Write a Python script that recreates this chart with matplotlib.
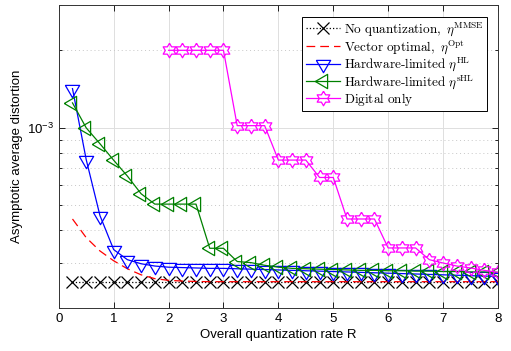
import numpy as np
import matplotlib
matplotlib.use("Agg")
import matplotlib.pyplot as plt
from matplotlib.ticker import LogLocator, NullFormatter, FixedLocator, FixedFormatter

plt.rcParams['font.family'] = ['Liberation Sans', 'DejaVu Sans']
plt.rcParams['mathtext.fontset'] = 'cm'

# ----- Data -----
R = np.arange(1, 33) * 0.25

mmse = [2.53e-4] * 32

opt = [4.43e-4, 3.75e-4, 3.33e-4, 3.05e-4, 2.84e-4, 2.69e-4, 2.60e-4, 2.56e-4,
       2.545e-4, 2.535e-4] + [2.53e-4] * 22

hl = [1.42e-3, 7.53e-4, 4.57e-4, 3.37e-4, 3.08e-4, 2.97e-4, 2.91e-4, 2.88e-4,
      2.87e-4, 2.86e-4, 2.85e-4, 2.85e-4, 2.84e-4, 2.83e-4, 2.82e-4, 2.81e-4,
      2.80e-4, 2.79e-4, 2.78e-4, 2.77e-4, 2.76e-4, 2.75e-4, 2.74e-4, 2.73e-4,
      2.72e-4, 2.71e-4, 2.70e-4, 2.69e-4, 2.68e-4, 2.67e-4, 2.66e-4, 2.65e-4]

shl = [1.25e-3, 1.0e-3, 8.68e-4, 7.49e-4, 6.5e-4, 5.55e-4, 5.06e-4, 5.06e-4,
       5.06e-4, 5.06e-4, 3.41e-4, 3.41e-4, 3.03e-4, 3.0e-4, 2.93e-4, 2.88e-4,
       2.85e-4, 2.84e-4, 2.83e-4, 2.82e-4, 2.81e-4, 2.80e-4, 2.80e-4, 2.79e-4,
       2.79e-4, 2.78e-4, 2.78e-4, 2.77e-4, 2.77e-4, 2.76e-4, 2.76e-4, 2.75e-4]

R_dig = np.arange(8, 33) * 0.25
dig = [2.0e-3] * 5 + [1.02e-3] * 3 + [7.5e-4] * 3 + [6.42e-4] * 2 + \
      [4.43e-4] * 3 + [3.42e-4] * 3 + [3.08e-4, 2.99e-4, 2.91e-4, 2.86e-4,
                                       2.80e-4, 2.75e-4]

# ----- Marker shapes (centroid at data point, like the original) -----
h = 1.72
tri_down = [(-1, h/3), (1, h/3), (0, -2*h/3), (-1, h/3)]
tri_left = [(-2*h/3, 0), (h/3, 1), (h/3, -1), (-2*h/3, 0)]
ang = np.pi/2 + np.arange(12) * np.pi/6
rad = np.where(np.arange(12) % 2 == 0, 1.0, 1/np.sqrt(3))
hexagram = list(zip(rad*np.cos(ang), rad*np.sin(ang)))
hexagram.append(hexagram[0])

# ----- Plot -----
fig = plt.figure(figsize=(5.11, 3.51), dpi=100)
ax = fig.add_axes([0.115, 0.1225, 0.8595, 0.8635])

lw = 0.9
ax.plot(R, mmse, color='k', ls=':', lw=lw, marker='x', ms=8, mew=lw,
        label=r'$\mathrm{No\ quantization,}\ \eta^{\mathrm{MMSE}}$')
ax.plot(R, opt, color='r', ls='--', dashes=(7, 4), lw=lw,
        label=r'$\mathrm{Vector\ optimal,}\ \eta^{\mathrm{Opt}}$')
ax.plot(R, hl, color='b', lw=lw, marker=tri_down, ms=11.8, mew=lw, mfc='none',
        label=r'$\mathrm{Hardware\text{-}limited}\ \eta^{\mathrm{HL}}$')
ax.plot(R, shl, color=(0, 0.5, 0), lw=lw, marker=tri_left, ms=11.8, mew=lw,
        mfc='none', label=r'$\mathrm{Hardware\text{-}limited}\ \eta^{\mathrm{sHL}}$')
ax.plot(R_dig, dig, color=(1, 0, 1), lw=lw, marker=hexagram, ms=10.5, mew=lw,
        mfc='none', label=r'$\mathrm{Digital\ only}$')

ax.set_yscale('log')
ax.set_xlim(0, 8)
ax.set_ylim(2e-4, 3e-3)
ax.set_xticks(range(9))
ax.yaxis.set_major_locator(FixedLocator([1e-3]))
ax.yaxis.set_major_formatter(FixedFormatter([r'$\mathdefault{10^{-3}}$']))
ax.yaxis.set_minor_locator(LogLocator(base=10, subs=np.arange(2, 10)))
ax.yaxis.set_minor_formatter(NullFormatter())

ax.tick_params(which='both', direction='in', top=True, right=True,
               labelsize=9.5, width=0.6)
ax.tick_params(which='major', length=4)
ax.tick_params(which='minor', length=2.5)
ax.grid(True, which='major', color='0.87', lw=0.7)
ax.grid(True, which='minor', axis='y', color='0.78', ls=(0, (1, 3)), lw=0.7)
ax.set_axisbelow(True)
for s in ax.spines.values():
    s.set_linewidth(0.7)
    s.set_color('0.2')

ax.set_xlabel('Overall quantization rate R', fontsize=9.5, labelpad=3)
ax.set_ylabel('Asymptotic average distortion', fontsize=9.5, labelpad=3)

leg = ax.legend(loc='upper right', bbox_to_anchor=(487/511, 1 - 17/351),
                bbox_transform=fig.transFigure, borderaxespad=0,
                fontsize=9.5, fancybox=False, framealpha=1, edgecolor='k',
                handlelength=2.6, handletextpad=0.3, labelspacing=0.0,
                borderpad=0.25)
leg.get_frame().set_linewidth(0.7)

plt.savefig("out.png", dpi=100)
